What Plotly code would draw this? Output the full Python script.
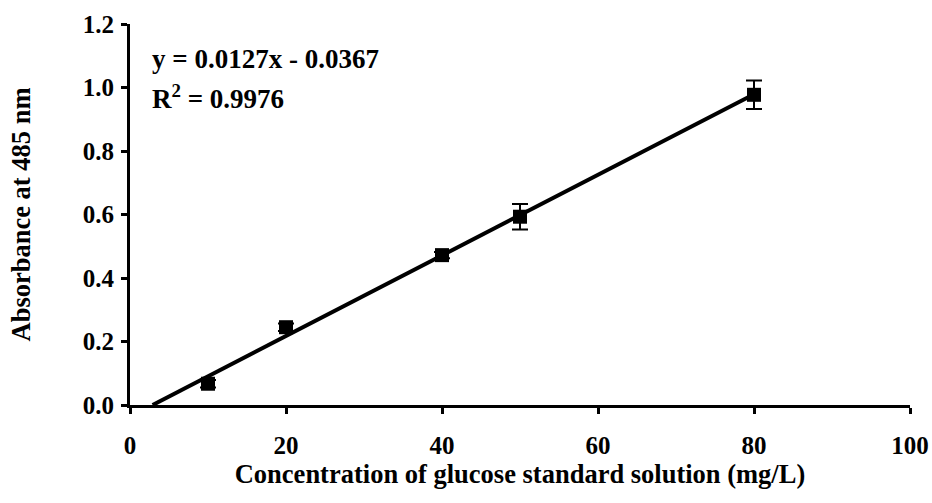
import plotly.graph_objects as go

conc = [10, 20, 40, 50, 80]
absorb = [0.067, 0.245, 0.472, 0.593, 0.977]
err = [0.012, 0.012, 0.010, 0.040, 0.045]
fit_x = [2.9, 80]
fit_y = [0.0, 0.979]
xticks = [0, 20, 40, 60, 80, 100]
yticks = [0.0, 0.2, 0.4, 0.6, 0.8, 1.0, 1.2]
ylabels = ["0.0", "0.2", "0.4", "0.6", "0.8", "1.0", "1.2"]
eq_lines = ["y = 0.0127x - 0.0367", "R<sup>2</sup> = 0.9976"]

FONT = "Liberation Serif"

fig = go.Figure()
fig.add_trace(go.Scatter(x=fit_x, y=fit_y, mode="lines",
                         line=dict(color="black", width=4), showlegend=False))
fig.add_trace(go.Scatter(x=conc, y=absorb, mode="markers",
                         marker=dict(symbol="square", size=14, color="black"),
                         error_y=dict(type="data", array=err, color="black",
                                      thickness=2, width=8),
                         showlegend=False))

for i, t in enumerate(eq_lines):
    fig.add_annotation(x=0, y=1.0, xref="paper", yref="paper", xanchor="left", yanchor="middle",
                       xshift=20, yshift=-35 - 38 * i, align="left", showarrow=False,
                       text=f"<b>{t}</b>",
                       font=dict(family=FONT, size=27, color="black"))

fig.update_layout(
    width=932, height=503,
    margin=dict(l=130, r=22, t=24, b=98),
    plot_bgcolor="white", paper_bgcolor="white",
    font=dict(family=FONT, size=25, color="black"),
)
fig.update_xaxes(range=[0, 100], tickvals=xticks, ticktext=[f"<b>{v}</b>" for v in xticks],
                 showgrid=False, zeroline=False, showline=True, linecolor="black", linewidth=3,
                 ticks="outside", ticklen=6, tickwidth=3, tickcolor="black",
                 tickfont=dict(family=FONT, size=25), ticklabelstandoff=10, automargin=False,
                 title=dict(text="<b>Concentration of glucose standard solution (mg/L)</b>",
                            font=dict(family=FONT, size=26.5), standoff=6))
fig.update_yaxes(range=[0, 1.2], tickvals=yticks, ticktext=[f"<b>{v}</b>" for v in ylabels],
                 showgrid=False, zeroline=False, showline=True, linecolor="black", linewidth=3,
                 ticks="outside", ticklen=6, tickwidth=3, tickcolor="black",
                 tickfont=dict(family=FONT, size=25), ticklabelstandoff=2, automargin=False,
                 title=dict(text="<b>Absorbance at 485 nm</b>",
                            font=dict(family=FONT, size=26.5), standoff=45))

fig.write_html("out.html")
